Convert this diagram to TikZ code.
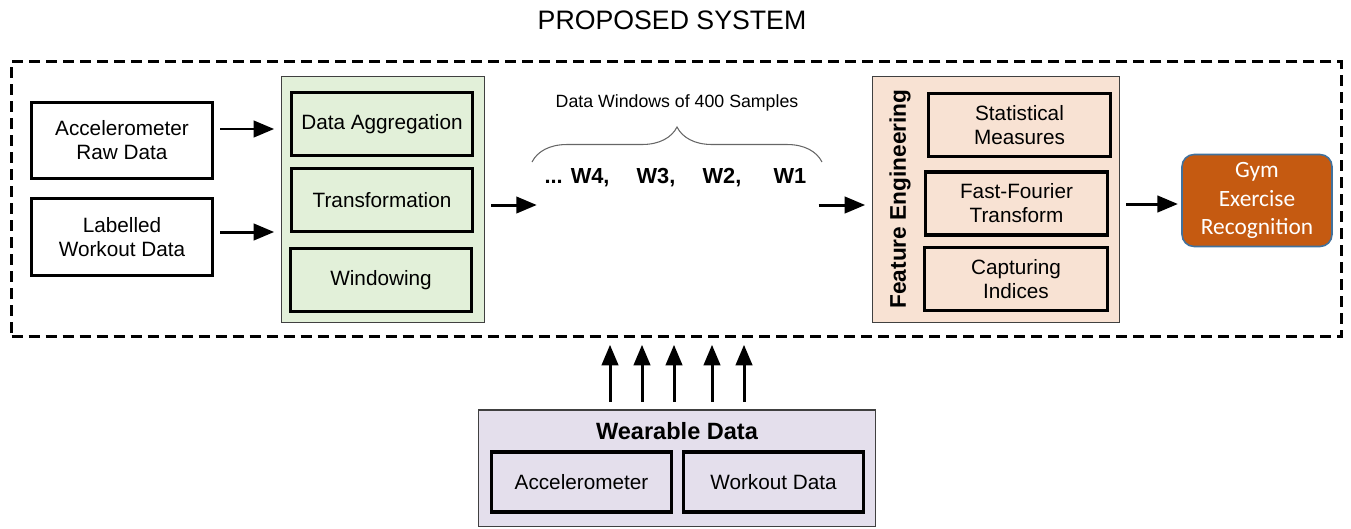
\documentclass[tikz,border=0pt]{standalone}
\usepackage{fontspec}
\setmainfont{Liberation Sans}
\newfontfamily\calibri{Carlito}
\usetikzlibrary{%
    decorations.pathreplacing,%
    arrows
}
\definecolor{prepgreen}{HTML}{E2F0D9}
\definecolor{featpeach}{HTML}{F8E2D3}
\definecolor{wearlilac}{HTML}{E4DFEC}
\definecolor{gymorange}{HTML}{C55A11}
\definecolor{gymedge}{HTML}{41719C}

\begin{document}
\begin{tikzpicture}[x=0.02cm,y=-0.02cm,
    txt/.style={font={\fontsize{11.8}{13.6}\selectfont},align=center},
    srcbox/.style={txt,draw,line width=1.7pt,inner sep=0pt,
        minimum width=3.62cm,minimum height=1.53cm},
    stagebox/.style={txt,draw,line width=2pt,inner sep=0pt,
        minimum width=3.62cm,minimum height=1.26cm},
    groupbox/.style={draw=black!75,line width=0.6pt,inner sep=0pt},
    wlabel/.style={anchor=base,font={\fontsize{12.4}{14}\selectfont\bfseries}},
    flow/.style={->,>=triangle 45,line width=1.7pt,
        shorten <=3.5pt,shorten >=4pt},
    winbrace/.style={decorate,decoration={brace,amplitude=0.7cm},
        black!60,line width=0.6pt}]
\useasboundingbox (0,0) rectangle (1351,528);

\node[font={\fontsize{15.2}{18}\selectfont}] (title) at (672,20) {PROPOSED SYSTEM};
\node[draw,line width=1.7pt,dash pattern=on 0.22cm off 0.12cm,inner sep=0pt,
    minimum width=26.6cm,minimum height=5.5cm] (sys) at (676.5,199) {};

% inputs
\node[srcbox] (raw) at (122,140.5) {Accelerometer\\Raw Data};
\node[srcbox] (lab) at (122,237) {Labelled\\Workout Data};

% preprocessing
\node[groupbox,fill=prepgreen,minimum width=4.06cm,minimum height=4.92cm] (prep) at (383,199.5) {};
\node[stagebox] (agg) at (382,124) {Data Aggregation};
\node[stagebox] (trans) at (382,200) {Transformation};
\node[stagebox] (win) at (381,280) {Windowing};

% windows
\node[font={\fontsize{10.1}{12}\selectfont}] (wcap) at (677,103) {Data Windows of 400 Samples};
\draw[winbrace] (532,162) -- (822,162);
\node[wlabel] (w4) at (577,183) {... W4,};
\node[wlabel] (w3) at (656,183) {W3,};
\node[wlabel] (w2) at (722,183) {W2,};
\node[wlabel] (w1) at (790,183) {W1};

% feature engineering
\node[groupbox,fill=featpeach,minimum width=4.94cm,minimum height=4.92cm] (feat) at (996,199.5) {};
\node[rotate=90,font={\fontsize{12.9}{15}\selectfont\bfseries}] (fetitle) at (900,199) {Feature Engineering};
\node[stagebox,minimum width=3.64cm] (stat) at (1019.5,125) {Statistical\\Measures};
\node[stagebox,minimum width=3.64cm] (fft) at (1016.5,203.5) {Fast-Fourier\\Transform};
\node[stagebox,minimum width=3.66cm] (capt) at (1016,279) {Capturing\\Indices};

\node[draw=gymedge,fill=gymorange,text=white,line width=0.9pt,rounded corners=0.24cm,
    minimum width=3.0cm,minimum height=1.84cm,align=center,
    font={\calibri\fontsize{13.3}{16.2}\selectfont}] (gym) at (1257,200.5) {Gym\\Exercise\\Recognition};

% wearable data
\node[groupbox,fill=wearlilac,minimum width=7.94cm,minimum height=2.33cm] (wear) at (677,468.25) {};
\node[font={\fontsize{13.4}{16}\selectfont\bfseries}] (weartitle) at (677,431) {Wearable Data};
\node[stagebox,minimum width=3.6cm,minimum height=1.2cm] (acc) at (581.5,482) {Accelerometer};
\node[stagebox,minimum width=3.6cm,minimum height=1.2cm] (wod) at (773.5,482) {Workout Data};

\draw[flow] (raw.east |- 0,129) -- (prep.west |- 0,129);
\draw[flow] (lab.east |- 0,232) -- (prep.west |- 0,232);
\draw[flow,shorten >=1pt] (prep.east |- 0,205) -- (w4.west |- 0,205);
\draw[flow] (w1.east |- 0,205) -- (feat.west |- 0,205);
\draw[flow,shorten >=2pt] (feat.east |- 0,204) -- (gym.west |- 0,204);
\foreach \x in {610,642,674,712,744}
    \draw[flow,shorten <=4.5pt] (wear.north -| \x,0) -- (sys.south -| \x,0);
\end{tikzpicture}
\end{document}
